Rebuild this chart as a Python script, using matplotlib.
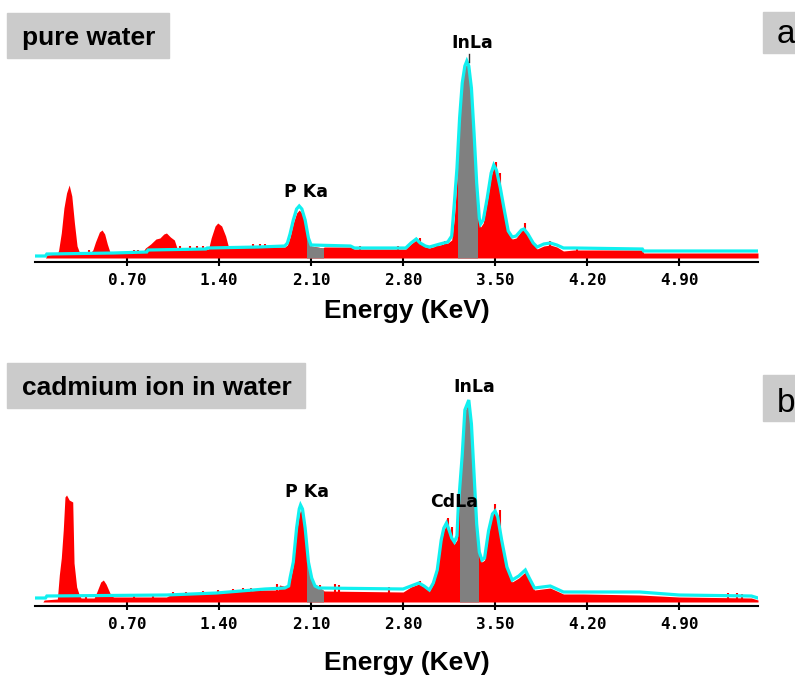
import matplotlib
matplotlib.use("Agg")
import matplotlib.pyplot as plt
from matplotlib.patches import Rectangle

# ---------------- data ----------------
# Panel a: pure water -- measured spectrum (red fill)
energy_a = [0.00, 0.08, 0.09, 0.17, 0.18, 0.20, 0.22, 0.24, 0.26, 0.28, 0.30, 0.32, 0.34,
            0.42, 0.44, 0.46, 0.49, 0.51, 0.53, 0.55, 0.57, 0.82, 0.84, 0.88, 0.92, 0.95,
            0.98, 1.00, 1.03, 1.06, 1.08, 1.10, 1.32, 1.34, 1.37, 1.39, 1.42, 1.45, 1.47,
            1.50, 1.90, 1.92, 1.94, 1.965, 1.99, 2.01, 2.03, 2.055, 2.08, 2.10, 2.19, 2.20,
            2.40, 2.43, 2.82, 2.86, 2.90, 2.93, 2.97, 3.00, 3.08, 3.14, 3.17, 3.19, 3.21,
            3.23, 3.25, 3.27, 3.285, 3.30, 3.32, 3.34, 3.36, 3.38, 3.39, 3.41, 3.44, 3.47,
            3.49, 3.51, 3.54, 3.57, 3.60, 3.63, 3.66, 3.70, 3.72, 3.75, 3.79, 3.82, 3.87,
            3.92, 3.97, 4.02, 4.10, 4.17, 4.62, 4.63, 5.50]
counts_a = [0, 0, 3, 4, 8, 25, 50, 65, 73, 62, 35, 12, 5,
            5, 8, 16, 26, 28, 24, 14, 6, 6, 10, 14, 19, 20,
            24, 25, 21, 18, 10, 8, 9, 20, 32, 35, 32, 22, 12,
            11, 11, 13, 21, 35, 45, 48, 45, 34, 17, 12, 10, 11,
            11, 9, 9, 14, 18, 14, 11, 10, 13, 15, 18, 40, 80,
            135, 172, 190, 194, 190, 168, 122, 72, 37, 31, 35, 57, 82,
            91, 86, 68, 45, 25, 19, 20, 27, 29, 22, 14, 9, 12,
            13, 11, 7, 8, 8, 8, 5, 5]
# Panel a: fitted curve (cyan line)
fit_energy_a = [0.00, 0.08, 0.09, 0.60, 0.85, 0.86, 1.30, 1.31, 1.70, 1.90, 1.92, 1.94,
                1.965, 1.99, 2.01, 2.03, 2.055, 2.08, 2.10, 2.40, 2.43, 2.82, 2.86, 2.90,
                2.93, 2.97, 3.00, 3.08, 3.14, 3.17, 3.19, 3.21, 3.23, 3.25, 3.27, 3.285,
                3.30, 3.32, 3.34, 3.36, 3.38, 3.39, 3.41, 3.44, 3.47, 3.49, 3.51, 3.54,
                3.57, 3.60, 3.63, 3.66, 3.70, 3.72, 3.75, 3.79, 3.82, 3.87, 3.92, 3.97,
                4.02, 4.10, 4.62, 4.63, 5.50]
fit_a = [2, 2, 4, 5, 6, 8, 9, 10, 11, 12, 15, 24,
         38, 49, 52, 49, 38, 20, 13, 12, 10, 10, 15, 19,
         15, 12, 11, 14, 16, 22, 55, 90, 140, 175, 192, 197,
         192, 170, 125, 75, 40, 34, 38, 60, 85, 93, 88, 70,
         48, 27, 21, 22, 28, 29, 24, 15, 11, 14, 15, 13,
         10, 10, 9, 7, 7]
spike_e_a = [0.41, 0.75, 0.78, 1.10, 1.18, 1.23, 1.28, 1.66, 1.71, 1.75, 2.47, 2.76,
             2.93, 3.06, 3.12, 3.51, 3.54, 3.73, 3.92, 4.12]
spike_h_a = [8, 8, 8, 12, 12, 12, 12, 14, 14, 14, 12, 12,
             20, 14, 17, 96, 85, 35, 17, 11]

# Panel b: cadmium ion in water -- measured spectrum (red fill)
energy_b = [0.00, 0.06, 0.07, 0.17, 0.185, 0.20, 0.215, 0.228, 0.24, 0.26, 0.287, 0.297,
            0.317, 0.337, 0.35, 0.45, 0.47, 0.50, 0.52, 0.54, 0.56, 0.58, 0.60, 1.00,
            1.03, 1.38, 1.48, 1.74, 1.85, 1.86, 1.92, 1.94, 1.965, 1.99, 2.01, 2.02,
            2.035, 2.055, 2.08, 2.105, 2.14, 2.19, 2.20, 2.80, 2.86, 2.92, 2.96, 3.00,
            3.03, 3.06, 3.09, 3.11, 3.13, 3.15, 3.17, 3.19, 3.21, 3.22, 3.25, 3.27,
            3.30, 3.32, 3.34, 3.36, 3.38, 3.40, 3.42, 3.45, 3.48, 3.50, 3.52, 3.55,
            3.59, 3.63, 3.68, 3.73, 3.76, 3.80, 3.86, 3.92, 3.97, 4.02, 4.17, 4.60,
            4.90, 5.45, 5.50]
counts_b = [0, 0, 2, 3, 27, 44, 72, 105, 107, 102, 100, 39,
            15, 7, 4, 4, 10, 20, 22, 18, 12, 6, 5, 5,
            7, 9, 10, 12, 12, 17, 15, 21, 37, 70, 88, 92,
            88, 70, 37, 21, 17, 12, 11, 10, 15, 18, 15, 11,
            18, 31, 60, 72, 77, 70, 62, 58, 62, 90, 145, 190,
            199, 176, 126, 76, 48, 40, 42, 69, 87, 90, 84, 60,
            33, 20, 24, 30, 22, 12, 13, 14, 11, 8, 8, 7,
            5, 4, 2]
# Panel b: fitted curve (cyan line)
fit_energy_b = [0.00, 0.08, 0.09, 1.00, 1.38, 1.75, 1.90, 1.93, 1.94, 1.965, 1.99, 2.01,
                2.02, 2.035, 2.055, 2.08, 2.105, 2.13, 2.16, 2.80, 2.86, 2.92, 2.96, 3.00,
                3.03, 3.06, 3.09, 3.11, 3.13, 3.15, 3.17, 3.19, 3.21, 3.22, 3.25, 3.27,
                3.30, 3.32, 3.34, 3.36, 3.38, 3.40, 3.42, 3.45, 3.48, 3.50, 3.52, 3.55,
                3.59, 3.63, 3.68, 3.73, 3.76, 3.80, 3.86, 3.92, 3.97, 4.02, 4.60, 4.90,
                5.45, 5.50]
fit_b = [4, 4, 6, 7, 9, 13, 14, 16, 24, 40, 74, 93,
         97, 93, 74, 40, 24, 16, 14, 13, 16, 19, 16, 12,
         19, 32, 62, 74, 79, 72, 64, 60, 66, 95, 147, 192,
         202, 178, 128, 78, 50, 42, 44, 71, 88, 91, 85, 62,
         35, 22, 26, 32, 24, 14, 15, 16, 13, 10, 10, 7,
         6, 4]
spike_e_b = [0.39, 0.75, 0.90, 1.05, 1.15, 1.28, 1.39, 1.51, 1.58, 1.64, 1.71, 1.84,
             2.17, 2.28, 2.31, 2.69, 2.93, 3.14, 3.17, 3.50, 3.54, 5.27, 5.34, 5.38]
spike_h_b = [6, 8, 7, 10, 10, 11, 12, 13, 14, 14, 14, 18,
             17, 18, 17, 15, 21, 84, 75, 98, 92, 9, 9, 8]

xticks = [0.70, 1.40, 2.10, 2.80, 3.50, 4.20, 4.90]
xtick_labels = ["0.70", "1.40", "2.10", "2.80", "3.50", "4.20", "4.90"]
grey_ranges_a = [(2.07, 2.19), (3.22, 3.36)]
grey_ranges_b = [(2.07, 2.19), (3.23, 3.37)]

# ---------------- figure ----------------
W, H = 795, 678
fig = plt.figure(figsize=(W / 100, H / 100), dpi=100)


def fx(x):
    return x / W


def fy(y):
    return 1 - y / H


RED = "#ff0000"
CYAN = "#10f0f0"
GREY = "#808080"
BOXC = "#cbcbcb"


def panel(axis_y, top_y, E, C, FE, F, SE, SH, greys):
    ax = fig.add_axes([fx(35), fy(axis_y), fx(758) - fx(35), fy(top_y) - fy(axis_y)])
    ymax = axis_y - top_y - 4
    ax.set_xlim(0, 5.5)
    ax.set_ylim(-4, ymax)
    ax.fill_between(E, 0, C, color=RED, lw=0, zorder=2)
    ax.vlines(SE, 0, SH, color=RED, lw=1.5, zorder=2)
    for lo, hi in greys:
        g = ax.fill_between(E, 0, C, color=GREY, lw=0, zorder=3)
        g.set_clip_path(Rectangle((lo, -10), hi - lo, 500, transform=ax.transData))
    ax.plot(FE, F, color=CYAN, lw=2.3, zorder=4, solid_joinstyle="miter")
    for s in ["top", "left", "right"]:
        ax.spines[s].set_visible(False)
    ax.spines["bottom"].set_linewidth(1.5)
    ax.spines["bottom"].set_position(("data", -4))
    ax.set_yticks([])
    ax.set_xticks(xticks)
    ax.set_xticklabels(xtick_labels, fontfamily="DejaVu Sans Mono", fontweight="bold",
                       fontsize=11.5)
    ax.tick_params(axis="x", direction="inout", length=6, width=1.5, pad=5)
    ax.patch.set_visible(False)
    return ax


ax1 = panel(262, 30, energy_a, counts_a, fit_energy_a, fit_a, spike_e_a, spike_h_a,
            grey_ranges_a)
ax2 = panel(606, 380, energy_b, counts_b, fit_energy_b, fit_b, spike_e_b, spike_h_b,
            grey_ranges_b)

lab = dict(fontfamily="DejaVu Sans", fontweight="bold", fontsize=12.5,
           ha="center", va="center", zorder=6)
ax1.text(2.06, 66, "P Ka", **lab)
ax1.text(3.33, 215, "InLa", **lab)
ax1.plot([3.30, 3.30], [196, 204], color="#303030", lw=1, zorder=5)
ax2.text(2.07, 110, "P Ka", **lab)
ax2.text(3.34, 215, "InLa", **lab)
ax2.text(3.19, 100, "CdLa", **lab)

big = dict(fontfamily="Liberation Sans", fontweight="bold", fontsize=19)
# sample label boxes
fig.patches.append(Rectangle((fx(7), fy(58)), fx(169) - fx(7), fy(13) - fy(58),
                             transform=fig.transFigure, color=BOXC, zorder=0))
fig.text(fx(22), fy(45), "pure water", ha="left", va="baseline", **big)
fig.patches.append(Rectangle((fx(7), fy(408)), fx(305) - fx(7), fy(363) - fy(408),
                             transform=fig.transFigure, color=BOXC, zorder=0))
fig.text(fx(22), fy(395), "cadmium ion in water", ha="left", va="baseline", **big)

# panel letters
fig.patches.append(Rectangle((fx(763), fy(53)), fx(800) - fx(763), fy(12) - fy(53),
                             transform=fig.transFigure, color=BOXC, zorder=0))
fig.text(fx(777), fy(43), "a", ha="left", va="baseline", fontfamily="Liberation Sans",
         fontsize=24)
fig.patches.append(Rectangle((fx(763), fy(421)), fx(800) - fx(763), fy(375) - fy(421),
                             transform=fig.transFigure, color=BOXC, zorder=0))
fig.text(fx(777), fy(412), "b", ha="left", va="baseline", fontfamily="Liberation Sans",
         fontsize=24)

# axis titles
fig.text(fx(407), fy(318), "Energy (KeV)", ha="center", va="baseline", **big)
fig.text(fx(407), fy(670), "Energy (KeV)", ha="center", va="baseline", **big)

fig.savefig("out.png", dpi=100)
